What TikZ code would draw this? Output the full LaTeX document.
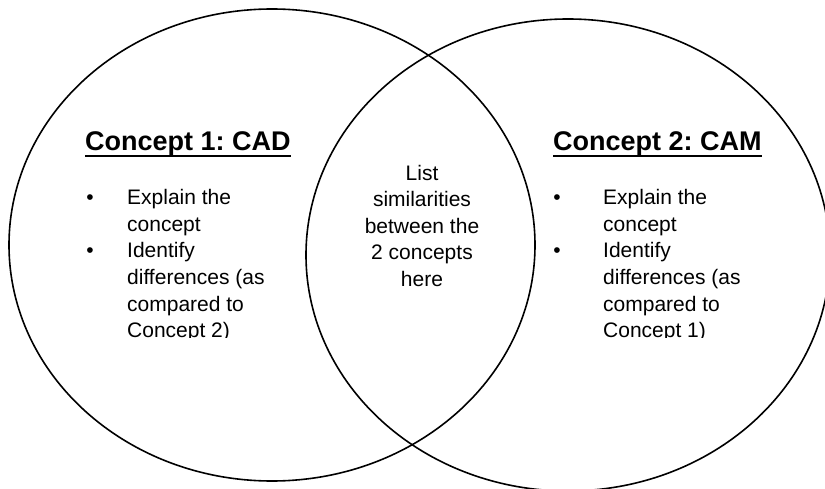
\documentclass[tikz,border=0pt]{standalone}
\usepackage{fontspec}
\setmainfont{Liberation Sans}
\frenchspacing
\begin{document}
\begin{tikzpicture}[x=1pt,y=-1pt,
  vennset/.style={draw=black, line width=1.6pt},
  body/.style={font=\fontsize{21}{26.5}\selectfont, inner sep=0pt, anchor=base west},
  ctr/.style={font=\fontsize{21}{26.5}\selectfont, inner sep=0pt, anchor=base},
  bul/.style={font=\fontsize{21}{26.5}\selectfont, inner sep=0pt, anchor=base},
  title/.style={font=\fontsize{27}{32}\selectfont\bfseries, inner sep=0pt, anchor=base west},
  uline/.style={line width=1.8pt}]
\clip (0,0) rectangle (825,489);
\fill[white] (0,0) rectangle (825,489);
% the two sets
\draw[vennset] (272,245) ellipse [x radius=263, y radius=236];
\draw[vennset] (568,255) ellipse [x radius=262, y radius=236];
% titles
\node[title] (tA) at (85,151) {Concept 1: CAD};
\draw[uline] ([yshift=-5pt]tA.base west) -- ([yshift=-5pt]tA.base east);
\node[title] (tB) at (553,151) {Concept 2: CAM};
\draw[uline] ([yshift=-5pt]tB.base west) -- ([yshift=-5pt]tB.base east);
% left list
\begin{scope}
\clip (70,160) rectangle (320,337);
\node[bul] (bA1) at (90,205) {•};
\node[bul] (bA2) at (90,258) {•};
\node[body] (a1) at (127,205) {Explain the};
\node[body] (a2) at (127,231.5) {concept};
\node[body] (a3) at (127,258) {Identify};
\node[body] (a4) at (127,284.5) {differences (as};
\node[body] (a5) at (127,311) {compared to};
\node[body] (a6) at (127,337.5) {Concept 2)};
\end{scope}
% right list
\begin{scope}
\clip (540,160) rectangle (800,337);
\node[bul] (bB1) at (557,205) {•};
\node[bul] (bB2) at (557,258) {•};
\node[body] (b1) at (603,205) {Explain the};
\node[body] (b2) at (603,231.5) {concept};
\node[body] (b3) at (603,258) {Identify};
\node[body] (b4) at (603,284.5) {differences (as};
\node[body] (b5) at (603,311) {compared to};
\node[body] (b6) at (603,337.5) {Concept 1)};
\end{scope}
% intersection text
\node[ctr] (c1) at (422,180.5) {List};
\node[ctr] (c2) at (422,207) {similarities};
\node[ctr] (c3) at (422,233.5) {between the};
\node[ctr] (c4) at (422,260) {2 concepts};
\node[ctr] (c5) at (422,286.5) {here};
\end{tikzpicture}
\end{document}
